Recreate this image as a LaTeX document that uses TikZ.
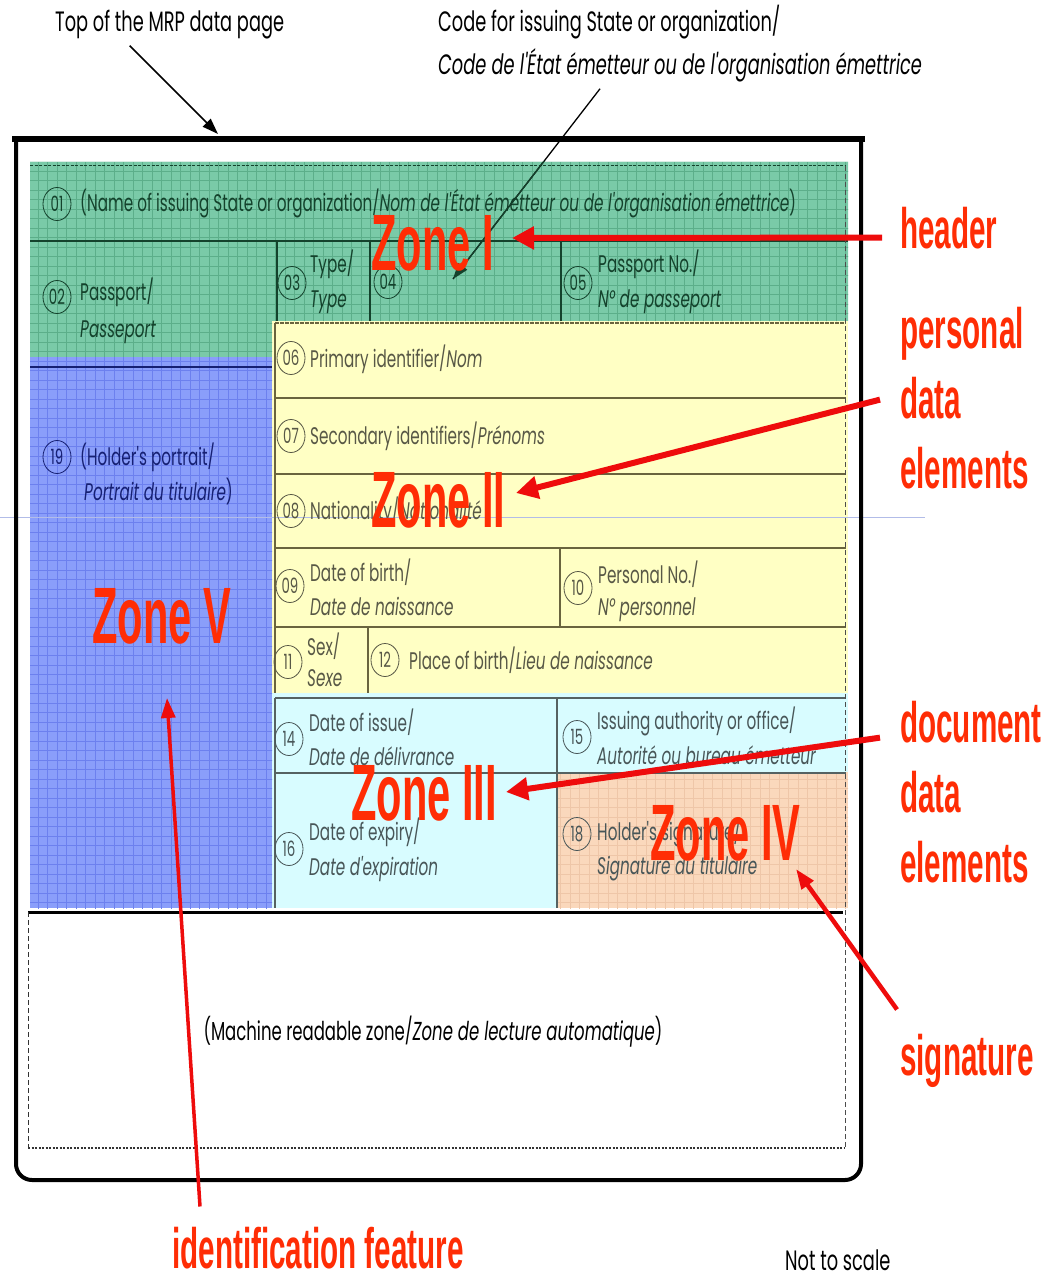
\documentclass[tikz,border=0pt]{standalone}
\usepackage{fontspec}
\usetikzlibrary{shapes.geometric,arrows.meta}
\newfontfamily\formfont{Poppins}[FakeStretch=0.635]
\newfontfamily\labelfont{Liberation Sans}[FakeStretch=0.52]

\definecolor{zgreen}{RGB}{122,202,168}
\definecolor{zgreengrid}{RGB}{92,174,138}
\definecolor{zgreentext}{RGB}{20,66,44}
\definecolor{zblue}{RGB}{138,158,250}
\definecolor{zbluegrid}{RGB}{108,128,238}
\definecolor{zbluetext}{RGB}{22,32,115}
\definecolor{zyellow}{RGB}{255,255,196}
\definecolor{zyellowline}{RGB}{105,100,62}
\definecolor{zyellowtext}{RGB}{88,88,70}
\definecolor{zcyan}{RGB}{216,252,255}
\definecolor{zcyanline}{RGB}{85,98,98}
\definecolor{zcyantext}{RGB}{72,86,88}
\definecolor{zorange}{RGB}{250,216,188}
\definecolor{zorangegrid}{RGB}{238,198,168}
\definecolor{zlabel}{RGB}{255,45,5}
\definecolor{zarrow}{RGB}{238,12,12}
\definecolor{scanline}{RGB}{178,188,232}

\tikzset{
  formtext/.style={font=\formfont\fontsize{24}{26}\selectfont, inner sep=0pt, anchor=base west},
  notetext/.style={font=\formfont\fontsize{28}{30}\selectfont, inner sep=0pt, anchor=base west, text=black},
  num/.style={draw, ellipse, minimum width=28pt, minimum height=33pt, inner sep=0pt,
              line width=0.8pt, font=\formfont\fontsize{21}{21}\selectfont},
  zonelbl/.style={font=\labelfont\bfseries\fontsize{80}{80}\selectfont, text=zlabel, inner sep=0pt, anchor=base west},
  sidelbl/.style={font=\labelfont\bfseries\fontsize{57}{57}\selectfont, text=zlabel, inner sep=0pt, anchor=base west},
  redarrow/.style={draw=zarrow, line width=6pt, -{Triangle[length=22pt,width=22pt]}},
  thinred/.style={draw=zarrow, line width=3.5pt, -{Triangle[length=20pt,width=14pt]}},
  rowline/.style={line width=2.2pt},
}

\begin{document}
\begin{tikzpicture}[x=1pt,y=-1pt]
\useasboundingbox (0,0) rectangle (1052,1281);
\fill[white] (0,0) rectangle (1052,1281);

% ---------- zone fills ----------
\fill[zgreen] (30,162) -- (848,162) -- (848,321) -- (272,321) -- (272,357) -- (30,357) -- cycle;
\fill[zblue] (30,357) rectangle (272,908);
\fill[zyellow] (272,321) rectangle (848,693);
\fill[zcyan] (272,693) rectangle (848,908);
\fill[zorange] (557,772) rectangle (848,908);

% ---------- fine grids ----------
\begin{scope}
  \clip (30,162) -- (848,162) -- (848,321) -- (272,321) -- (272,357) -- (30,357) -- cycle;
  \draw[zgreengrid, line width=0.5pt, step=9.5pt] (20,150) grid (860,370);
\end{scope}
\begin{scope}
  \clip (30,357) rectangle (272,908);
  \draw[zbluegrid, line width=0.5pt, step=9.5pt] (20,350) grid (280,920);
\end{scope}
\begin{scope}
  \clip (557,772) rectangle (848,908);
  \draw[zorangegrid, line width=0.4pt, step=9.5pt] (550,760) grid (860,920);
\end{scope}

% faint scanner line across the page
\draw[scanline, line width=0.6pt] (0,517) -- (925,517);

% ---------- header (zone I) rules ----------
\draw[zgreentext, line width=1pt, dash pattern=on 3pt off 1.5pt] (30,166) -- (846,166);
\draw[zgreentext, line width=2.5pt] (30,241) -- (848,241);
\draw[zgreentext, line width=1.2pt] (277,241) -- (277,321);
\draw[zgreentext, line width=1.2pt] (370,241) -- (370,321);
\draw[zgreentext, line width=1.2pt] (561,241) -- (561,321);

% ---------- portrait (zone V) rule ----------
\draw[zbluetext, line width=2pt] (30,367) -- (272,367);

% ---------- personal data (zone II) rules ----------
\draw[zyellowline, line width=1.5pt, dash pattern=on 4pt off 1pt] (275,323) -- (846,323);
\draw[zyellowline, line width=1.2pt] (275,323) -- (275,693);
\draw[zyellowline, rowline] (275,398) -- (846,398);
\draw[zyellowline, rowline] (275,474) -- (846,474);
\draw[zyellowline, rowline] (275,548) -- (846,548);
\draw[zyellowline, rowline] (275,627) -- (846,627);
\draw[zyellowline, line width=1.2pt] (560,548) -- (560,627);
\draw[zyellowline, line width=1.2pt] (368,627) -- (368,693);

% ---------- document data (zone III) rules ----------
\draw[zcyanline, rowline] (275,698) -- (846,698);
\draw[zcyanline, line width=1.2pt] (275,698) -- (275,908);
\draw[zcyanline, rowline] (275,773) -- (846,773);
\draw[zcyanline, line width=1.2pt] (557,698) -- (557,908);

% ---------- right edge of the printable area and MRZ ----------
\draw[black!70, line width=0.7pt, dash pattern=on 5pt off 3pt] (845,166) -- (845,1148);
\draw[black, line width=3pt] (28,912) -- (843,912);
\draw[black!80, line width=0.8pt, dash pattern=on 5pt off 3pt] (28,912) -- (28,1148);
\draw[black!80, line width=1.3pt, dash pattern=on 2pt off 1.5pt] (28,1148) -- (845,1148);

% ---------- card outline ----------
\draw[black, line width=4pt, rounded corners=16pt] (861,138) -- (861,1180) -- (16,1180) -- (16,138);
\draw[black, line width=6.5pt] (12,139) -- (865,139);

% ---------- field numbers and captions ----------
\begin{scope}[every node/.append style={text=zgreentext}, num/.append style={draw=zgreentext}]
  \node[num] (n01) at (57,204) {01};
  \node[formtext] (t01) at (80,212) {(Name of issuing State or organization/\textit{Nom de l'État émetteur ou de l'organisation émettrice})};
  \node[num] (n02) at (57,297) {02};
  \node[formtext] (t02a) at (80,300) {Passport/};
  \node[formtext] (t02b) at (80,337) {\textit{Passeport}};
  \node[num] (n03) at (292,283) {03};
  \node[formtext] (t03a) at (310,272) {Type/};
  \node[formtext] (t03b) at (310,307) {\textit{Type}};
  \node[num] (n04) at (388,282) {04};
  \node[num] (n05) at (578,283) {05};
  \node[formtext] (t05a) at (598,272) {Passport No./};
  \node[formtext] (t05b) at (598,307) {\textit{N° de passeport}};
\end{scope}

\begin{scope}[every node/.append style={text=zbluetext}, num/.append style={draw=zbluetext}]
  \node[num] (n19) at (57,457) {19};
  \node[formtext] (t19a) at (80,465) {(Holder's portrait/};
  \node[formtext] (t19b) at (84,500) {\textit{Portrait du titulaire})};
\end{scope}

\begin{scope}[every node/.append style={text=zyellowtext}, num/.append style={draw=zyellowtext}]
  \node[num] (n06) at (291,358) {06};
  \node[formtext] (t06) at (310,367) {Primary identifier/\textit{Nom}};
  \node[num] (n07) at (291,436) {07};
  \node[formtext] (t07) at (310,444) {Secondary identifiers/\textit{Prénoms}};
  \node[num] (n08) at (291,511) {08};
  \node[formtext] (t08) at (310,519) {Nationality/\textit{Nationalité}};
  \node[num] (n09) at (290,586) {09};
  \node[formtext] (t09a) at (310,581) {Date of birth/};
  \node[formtext] (t09b) at (310,615) {\textit{Date de naissance}};
  \node[num] (n10) at (578,588) {10};
  \node[formtext] (t10a) at (598,583) {Personal No./};
  \node[formtext] (t10b) at (598,615) {\textit{N° personnel}};
  \node[num] (n11) at (288,662) {11};
  \node[formtext] (t11a) at (307,655) {Sex/};
  \node[formtext] (t11b) at (307,686) {\textit{Sexe}};
  \node[num] (n12) at (385,660) {12};
  \node[formtext] (t12) at (409,669) {Place of birth/\textit{Lieu de naissance}};
\end{scope}

\begin{scope}[every node/.append style={text=zcyantext}, num/.append style={draw=zcyantext}]
  \node[num] (n14) at (289,739) {14};
  \node[formtext] (t14a) at (309,731) {Date of issue/};
  \node[formtext] (t14b) at (309,765) {\textit{Date de délivrance}};
  \node[num] (n15) at (577,737) {15};
  \node[formtext] (t15a) at (597,729) {Issuing authority or office/};
  \node[formtext] (t15b) at (597,764) {\textit{Autorité ou bureau émetteur}};
  \node[num] (n16) at (289,849) {16};
  \node[formtext] (t16a) at (309,840) {Date of expiry/};
  \node[formtext] (t16b) at (309,875) {\textit{Date d'expiration}};
  \node[num] (n18) at (577,834) {18};
  \node[formtext] (t18a) at (597,840) {Holder's signature/};
  \node[formtext] (t18b) at (597,874) {\textit{Signature du titulaire}};
\end{scope}

\node[formtext, text=black, anchor=base, font=\formfont\fontsize{26}{28}\selectfont] (mrz) at (433,1040) {(Machine readable zone/\textit{Zone de lecture automatique})};

% ---------- black annotations ----------
\node[notetext] (toplbl) at (55,32) {Top of the MRP data page};
\node[notetext] (codelbl1) at (438,32) {Code for issuing State or organization/};
\node[notetext] (codelbl2) at (438,75) {\textit{Code de l'État émetteur ou de l'organisation émettrice}};
\node[notetext] (nts) at (785,1270) {Not to scale};

\coordinate (topedge) at (218,134);
\draw[black, line width=1.6pt, -{Triangle[length=16pt,width=11pt]}] ([xshift=-40pt,yshift=-6pt]toplbl.south) -- (topedge);

\coordinate (codetip) at (453,279);
\draw[black, line width=1.3pt] ([xshift=162pt,yshift=-6pt]codelbl2.south west) -- (codetip);
\begin{scope}
  \clip (30,162) rectangle (848,321);
  \draw[zgreentext, line width=1.3pt, -{Triangle[length=16pt,width=11pt]}] ([xshift=162pt,yshift=-6pt]codelbl2.south west) -- (codetip);
\end{scope}

% ---------- zone names ----------
\node[zonelbl] (zI) at (371,270) {Zone I};
\node[zonelbl] (zII) at (371,527) {Zone II};
\node[zonelbl] (zV) at (92,643) {Zone V};
\node[zonelbl] (zIII) at (351,820) {Zone III};
\node[zonelbl] (zIV) at (650,860) {Zone IV};

% ---------- side labels ----------
\node[sidelbl] (hdr) at (900,248) {header};
\node[sidelbl] (pers) at (900,348) {personal};
\node[sidelbl] (pdata) at (900,418) {data};
\node[sidelbl] (pelem) at (900,488) {elements};
\node[sidelbl] (ddoc) at (900,742) {document};
\node[sidelbl] (ddata) at (900,812) {data};
\node[sidelbl] (delem) at (900,882) {elements};
\node[sidelbl] (sig) at (900,1075) {signature};
\node[sidelbl] (idf) at (172,1268) {identification feature};

% ---------- red pointers ----------
\coordinate (hdrtip) at (512,238);
\coordinate (perstip) at (516,493);
\coordinate (doctip) at (506,792);
\coordinate (sigtip) at (796,869);
\coordinate (idftip) at (167,698);
\draw[redarrow] ([xshift=-18pt,yshift=-10pt]hdr.west) -- (hdrtip);
\draw[redarrow] ([xshift=-20pt,yshift=-2pt]pdata.west) -- (perstip);
\draw[redarrow] ([xshift=-20pt,yshift=-16pt]ddoc.west) -- (doctip);
\draw[thinred, line width=4.5pt] ([xshift=-3pt,yshift=24pt]sig.north west) -- (sigtip);
\draw[thinred] ([xshift=28pt,yshift=20pt]idf.north west) -- (idftip);
\end{tikzpicture}
\end{document}
